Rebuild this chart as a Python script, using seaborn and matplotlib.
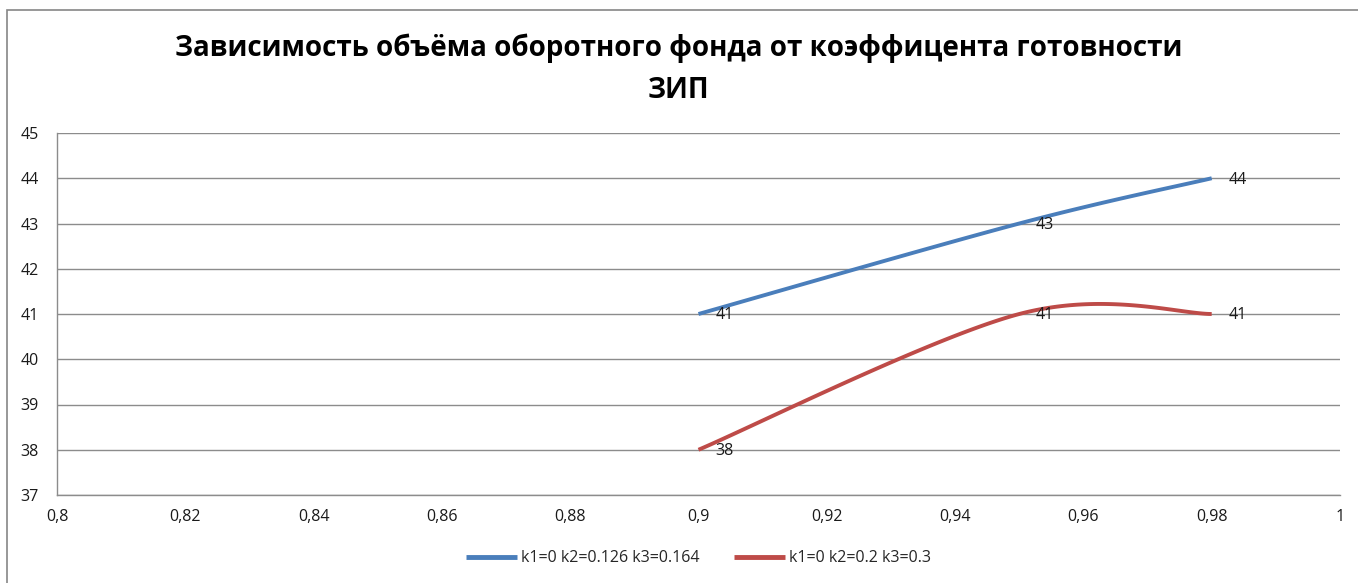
import numpy as np
import pandas as pd
import matplotlib
matplotlib.use("Agg")
import matplotlib.pyplot as plt
from matplotlib.ticker import FuncFormatter, MultipleLocator
from matplotlib.patches import Rectangle
import seaborn as sns

# Readiness coefficient and stock volume for each parameter set
kg = [0.90, 0.95, 0.98]
series_a_name = "k1=0 k2=0.126 k3=0.164"
series_a = [41, 43, 44]
series_b_name = "k1=0 k2=0.2 k3=0.3"
series_b = [38, 41, 41]

title = "Зависимость объёма оборотного фонда от коэффицента готовности\nЗИП"


def smooth(xs, ys, n=60):
    """Bezier smoothing through the points (tension 1/6, like spreadsheet smoothed lines)."""
    pts = np.column_stack([xs, ys]).astype(float)
    ext = np.vstack([pts[0], pts, pts[-1]])
    out = []
    t = np.linspace(0, 1, n)[:, None]
    for i in range(1, len(ext) - 2):
        p0, p1, p2, p3 = ext[i - 1], ext[i], ext[i + 1], ext[i + 2]
        c1 = p1 + (p2 - p0) / 6
        c2 = p2 - (p3 - p1) / 6
        seg = ((1 - t) ** 3) * p1 + 3 * ((1 - t) ** 2) * t * c1 + 3 * (1 - t) * t ** 2 * c2 + t ** 3 * p2
        out.append(seg if i == 1 else seg[1:])
    arr = np.vstack(out)
    return arr[:, 0], arr[:, 1]


sns.set_theme(style="white")
plt.rcParams["font.family"] = ["Open Sans", "DejaVu Sans"]

fig = plt.figure(figsize=(13.58, 5.83), dpi=100)
ax = fig.add_axes([57 / 1358, 1 - 495 / 583, (1340 - 57) / 1358, (495 - 133) / 583])

palette = {series_a_name: "#4A7EBB", series_b_name: "#BE4B48"}
for name, vals in [(series_a_name, series_a), (series_b_name, series_b)]:
    sx, sy = smooth(kg, vals)
    sns.lineplot(x=sx, y=sy, sort=False, estimator=None,
                 color=palette[name], linewidth=2.8, ax=ax, label=name,
                 solid_capstyle="butt")

# value labels to the right of each point
for vals in [series_a, series_b]:
    for xv, yv in zip(kg, vals):
        ax.annotate(f"{yv}", (xv, yv), xytext=(12, -1), textcoords="offset points",
                    ha="left", va="center", fontsize=11.5, color="#1a1a1a")

ax.set_xlim(0.8, 1.0)
ax.set_ylim(37, 45)
ax.xaxis.set_major_locator(MultipleLocator(0.02))
ax.yaxis.set_major_locator(MultipleLocator(1))


def comma_fmt(v, pos):
    s = f"{v:.2f}".rstrip("0").rstrip(".")
    return s.replace(".", ",")


ax.xaxis.set_major_formatter(FuncFormatter(comma_fmt))
ax.yaxis.set_major_formatter(FuncFormatter(lambda v, p: f"{int(round(v))}"))
ax.set_xlabel("")
ax.set_ylabel("")

grid_c = "#8c8c8c"
ax.grid(axis="y", color=grid_c, linewidth=1.0)
ax.set_axisbelow(True)
for side in ["top", "right"]:
    ax.spines[side].set_visible(False)
for side in ["left", "bottom"]:
    ax.spines[side].set_color(grid_c)
    ax.spines[side].set_linewidth(1.0)
ax.tick_params(axis="both", which="major", direction="out", length=5, width=1,
               color=grid_c, labelsize=11.5, labelcolor="#1a1a1a", pad=5)
ax.tick_params(axis="y", pad=8)

fig.text(0.5, 1 - 69 / 583, title, ha="center", va="center", fontsize=20,
         fontweight="bold", linespacing=1.6, color="#000000")

leg = ax.legend(loc="center", bbox_to_anchor=(0.5, -0.175), ncol=2, frameon=False,
                fontsize=11.5, handlelength=3.2, columnspacing=2.2, handletextpad=0.25)
for h in leg.get_lines():
    h.set_linewidth(3.5)

fig.add_artist(Rectangle((7 / 1358, -0.1), 1.2, 1 - 10 / 583 + 0.1, transform=fig.transFigure,
                         fill=False, edgecolor="#868686", linewidth=1.2))

fig.savefig("out.png", dpi=100, facecolor="white")
